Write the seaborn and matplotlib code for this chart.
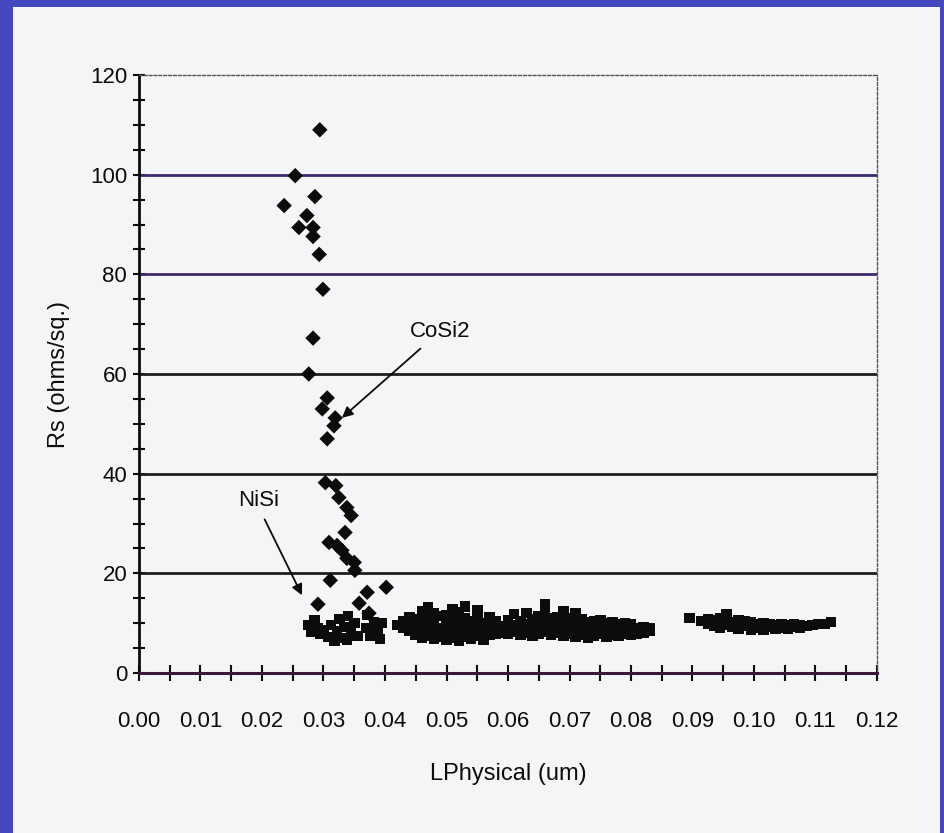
import numpy as np
import pandas as pd
import matplotlib
matplotlib.use("Agg")
import matplotlib.pyplot as plt
import seaborn as sns
from matplotlib import font_manager
from matplotlib.patches import Rectangle

# CoSi2 points (diamonds)
cosi2_x = [0.0294, 0.0254, 0.0236, 0.0286, 0.0273, 0.0260, 0.0283, 0.0283, 0.0293, 0.0299,
           0.0283, 0.0276, 0.0306, 0.0298, 0.0319, 0.0317, 0.0306, 0.0303, 0.0320, 0.0325,
           0.0338, 0.0345, 0.0335, 0.0309, 0.0322, 0.0330, 0.0338, 0.0350, 0.0351, 0.0311,
           0.0371, 0.0402, 0.0358, 0.0291, 0.0374]
cosi2_y = [109.0, 99.8, 93.8, 95.6, 91.8, 89.4, 89.4, 87.6, 84.0, 77.0,
           67.2, 60.0, 55.2, 53.0, 51.2, 49.6, 47.0, 38.2, 37.6, 35.2,
           33.2, 31.6, 28.2, 26.2, 25.6, 24.6, 23.0, 22.2, 20.6, 18.6,
           16.2, 17.2, 14.0, 13.8, 12.0]

# NiSi points (low band, squares)
nisi_x = [0.0275, 0.0280, 0.0285, 0.0290, 0.0295, 0.0300, 0.0308, 0.0312, 0.0318, 0.0322,
          0.0326, 0.0330, 0.0334, 0.0340, 0.0338, 0.0345, 0.0350, 0.0355, 0.0372, 0.0370,
          0.0376, 0.0382, 0.0388, 0.0392, 0.0395,
          0.042, 0.043, 0.043, 0.044, 0.044, 0.044, 0.045, 0.045, 0.045,
          0.046, 0.046, 0.046, 0.046, 0.047, 0.047, 0.047, 0.047,
          0.048, 0.048, 0.048, 0.048, 0.049, 0.049, 0.049,
          0.050, 0.050, 0.050, 0.050, 0.051, 0.051, 0.051, 0.051,
          0.052, 0.052, 0.052, 0.052, 0.053, 0.053, 0.053, 0.053,
          0.054, 0.054, 0.054, 0.055, 0.055, 0.055, 0.055,
          0.056, 0.056, 0.056, 0.057, 0.057, 0.057, 0.058, 0.058, 0.058,
          0.059, 0.059, 0.060, 0.060, 0.060, 0.061, 0.061, 0.061,
          0.062, 0.062, 0.062, 0.063, 0.063, 0.063, 0.064, 0.064, 0.064,
          0.065, 0.065, 0.065, 0.066, 0.066, 0.066, 0.066,
          0.067, 0.067, 0.067, 0.068, 0.068, 0.068, 0.069, 0.069, 0.069, 0.069,
          0.070, 0.070, 0.070, 0.071, 0.071, 0.071, 0.071,
          0.072, 0.072, 0.072, 0.073, 0.073, 0.073, 0.074, 0.074, 0.074,
          0.075, 0.075, 0.075, 0.076, 0.076, 0.076, 0.077, 0.077, 0.077,
          0.078, 0.078, 0.078, 0.079, 0.079, 0.079, 0.080, 0.080, 0.080,
          0.081, 0.081, 0.082, 0.082, 0.083, 0.083,
          0.0895, 0.0915, 0.0925, 0.0925, 0.0935, 0.0935, 0.0945, 0.0945, 0.0945,
          0.0955, 0.0955, 0.0955, 0.0965, 0.0965, 0.0975, 0.0975, 0.0975,
          0.0985, 0.0985, 0.0995, 0.0995, 0.0995, 0.1005, 0.1005,
          0.1015, 0.1015, 0.1015, 0.1025, 0.1025, 0.1035, 0.1035,
          0.1045, 0.1045, 0.1055, 0.1055, 0.1065, 0.1065, 0.1075, 0.1075,
          0.1085, 0.1095, 0.1105, 0.1115, 0.1125]
nisi_y = [9.6, 8.2, 10.6, 9.0, 7.8, 8.6, 7.2, 9.6, 6.4, 8.4,
          10.8, 7.0, 9.2, 11.4, 6.6, 8.0, 10.0, 7.4, 11.6, 9.0,
          7.4, 10.2, 8.2, 6.8, 10.0,
          9.6, 9.0, 10.4, 8.4, 10.0, 11.2, 7.6, 9.2, 10.8,
          7.0, 8.8, 10.6, 12.4, 7.4, 9.4, 11.0, 13.2,
          6.8, 8.6, 10.2, 12.0, 7.2, 9.0, 11.4,
          6.6, 8.2, 9.8, 11.6, 7.0, 8.8, 10.6, 12.8,
          6.4, 8.4, 10.2, 12.2, 7.2, 9.2, 11.0, 13.4,
          6.8, 8.6, 10.4, 7.4, 9.0, 10.8, 12.6,
          6.6, 8.4, 10.0, 7.6, 9.4, 11.2, 7.8, 9.0, 10.4,
          8.0, 9.4, 7.8, 9.2, 10.6, 8.2, 9.6, 11.8,
          7.6, 9.0, 10.4, 8.0, 9.8, 12.0, 7.4, 9.2, 10.8,
          7.8, 9.6, 11.4, 8.2, 9.8, 11.6, 13.8,
          7.6, 9.4, 11.0, 8.0, 9.6, 11.2, 7.4, 9.0, 10.6, 12.4,
          7.8, 9.4, 11.0, 7.2, 8.8, 10.4, 12.0,
          7.6, 9.2, 10.8, 7.0, 8.6, 10.2, 7.4, 9.0, 10.4,
          7.8, 9.2, 10.6, 7.2, 8.8, 10.0, 7.6, 9.0, 10.2,
          7.4, 8.6, 9.8, 7.8, 9.0, 10.0, 7.6, 8.8, 9.8,
          7.8, 9.0, 8.0, 9.2, 8.4, 9.0,
          11.0, 10.4, 9.8, 10.8, 9.4, 10.6, 9.0, 10.2, 11.0,
          9.6, 10.6, 11.8, 9.2, 10.2, 8.8, 9.8, 10.6,
          9.4, 10.4, 8.6, 9.6, 10.2, 9.0, 9.8,
          8.6, 9.4, 10.0, 9.2, 9.8, 8.8, 9.6,
          9.0, 9.8, 8.8, 9.6, 9.2, 9.8, 9.0, 9.6,
          9.4, 9.6, 9.8, 9.8, 10.2]

x_ticks = [0.00, 0.01, 0.02, 0.03, 0.04, 0.05, 0.06, 0.07, 0.08, 0.09, 0.10, 0.11, 0.12]
y_ticks = [0, 20, 40, 60, 80, 100, 120]
grid_y = [20, 40, 60, 80, 100]

df = pd.concat([
    pd.DataFrame({"L": cosi2_x, "Rs": cosi2_y, "film": "CoSi2"}),
    pd.DataFrame({"L": nisi_x, "Rs": nisi_y, "film": "NiSi"}),
])

sns.set_style("white")
names = {f.name for f in font_manager.fontManager.ttflist}
narrow = "Liberation Sans Narrow" in names
plt.rcParams["font.family"] = ["Liberation Sans Narrow" if narrow else "Liberation Sans", "DejaVu Sans"]
fs = 19 if narrow else 16

fig = plt.figure(figsize=(9.45, 8.33), dpi=100, facecolor="#4547bf")
fig.patches.append(Rectangle((13 / 945, 0), (940 - 13) / 945, 1 - 7 / 833,
                             transform=fig.transFigure, facecolor="#f5f5f7",
                             edgecolor="none", zorder=-10))
ax = fig.add_axes([139 / 945, 1 - 673 / 833, (877 - 139) / 945, (673 - 75) / 833])
ax.set_facecolor("none")

for g in grid_y:
    col = "#3d2a6e" if g >= 80 else "#1e1e1e"
    ax.axhline(g, color=col, lw=2, zorder=1)

sns.scatterplot(data=df, x="L", y="Rs", style="film", markers={"CoSi2": "D", "NiSi": "s"},
                size="film", sizes={"CoSi2": 62, "NiSi": 58},
                color="#0c0c0c", edgecolor="none", legend=False, ax=ax, zorder=3)

ax.set_xlim(0, 0.12)
ax.set_ylim(0, 120)
ax.set_xticks(x_ticks)
ax.set_xticklabels([f"{v:.2f}" for v in x_ticks], fontsize=fs)
ax.set_xticks(np.arange(0, 0.1201, 0.005), minor=True)
ax.set_yticks(y_ticks)
ax.set_yticklabels([str(v) for v in y_ticks], fontsize=fs)
ax.set_yticks(np.arange(0, 121, 5), minor=True)
ax.tick_params(axis="x", which="both", bottom=True, direction="inout", length=11, width=1.5,
               pad=22, colors="#0c0c0c")
ax.tick_params(axis="y", which="both", left=True, direction="inout", length=9, width=1.5,
               pad=4, colors="#0c0c0c")

ax.spines["left"].set_linewidth(2)
ax.spines["left"].set_color("#0c0c0c")
ax.spines["bottom"].set_linewidth(2.2)
ax.spines["bottom"].set_color("#3a1838")
for side in ["top", "right"]:
    ax.spines[side].set_linestyle((0, (2, 1.5)))
    ax.spines[side].set_linewidth(1)
    ax.spines[side].set_color("#555555")

ax.set_xlabel("LPhysical (um)", fontsize=fs + 1, labelpad=22, color="#0c0c0c")
ax.set_ylabel("Rs (ohms/sq.)", fontsize=fs + 1, labelpad=14, color="#0c0c0c")

ax.annotate("CoSi2", xy=(0.0330, 51.2), xytext=(0.0441, 68.6), fontsize=fs,
            ha="left", va="center", color="#0c0c0c",
            arrowprops=dict(arrowstyle="-|>", color="#0c0c0c", lw=1.3, shrinkA=4, shrinkB=0,
                            relpos=(0.3, 0.0), mutation_scale=16))
ax.annotate("NiSi", xy=(0.0265, 15.6), xytext=(0.0161, 34.6), fontsize=fs,
            ha="left", va="center", color="#0c0c0c",
            arrowprops=dict(arrowstyle="-|>", color="#0c0c0c", lw=1.3, shrinkA=4, shrinkB=0,
                            relpos=(0.55, 0.0), mutation_scale=16))

fig.savefig("out.png", dpi=100, facecolor=fig.get_facecolor())
